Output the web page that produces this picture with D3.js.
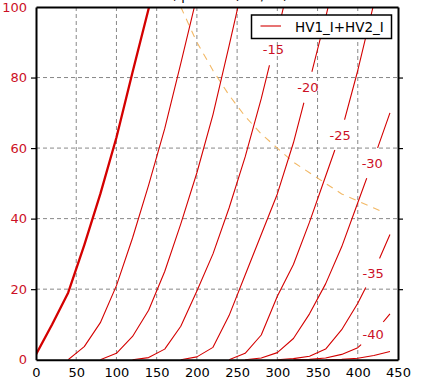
<!DOCTYPE html>
<html>
<head>
<script src="https://cdn.jsdelivr.net/npm/d3@7"></script>
<style>
  body { margin: 0; background: #fff; }
  svg { display: block; font-family: "DejaVu Sans", sans-serif; }
</style>
</head>
<body>
<script>
// plate voltage (V) / plate current (mA), one list per grid voltage
var vg0   = [[0,1.5],[20,10],[40,19],[60,32.5],[80,47],[100,63],[120,81.5],[140,99.5],[160,118]];
var vg5   = [[40,0],[60,3.7],[80,10.5],[100,21],[120,34.5],[140,49.5],[160,65.5],[180,84],[200,103]];
var vg10  = [[80,0],[100,1.8],[120,6.6],[140,14],[160,25],[180,38.5],[200,53],[220,69.5],[240,89],[260,109]];
var vg15  = [[120,0],[140,0.6],[160,3],[180,9.5],[200,19.5],[220,30],[240,43],[260,57.5],[280,74],[300,92.5],[320,112]];
var vg20  = [[180,0],[200,0.8],[220,3.5],[240,12.5],[260,24],[280,35.5],[300,47],[320,61.5],[340,79],[360,97],[380,116]];
var vg25  = [[240,0],[260,1.8],[280,7],[300,18],[320,27],[340,39],[360,52],[380,65],[400,82],[420,101],[440,120]];
var vg30  = [[260,0],[280,0.5],[300,2],[320,6],[340,13],[360,21.5],[380,32],[400,44.5],[420,57],[440,70]];
var vg35  = [[300,0],[320,0.3],[340,1],[360,3],[380,8.5],[400,16],[420,25],[440,35.5]];
var vg40  = [[320,0],[340,0.1],[360,0.5],[380,1.5],[400,3.4],[420,7.5],[440,13]];
var vg45  = [[360,0],[380,0.1],[400,0.4],[420,1.2],[440,2.3]];
var curves = [vg0, vg5, vg10, vg15, vg20, vg25, vg30, vg35, vg40, vg45];
var gridVolts = [0, -5, -10, -15, -20, -25, -30, -35, -40, -45];

// max dissipation line (dashed)
var pmax = [[180,100],[200,90],[220,82],[240,75],[260,69],[280,64],[300,60],[320,56],[340,53],[360,50],[380,47],[400,45],[420,43],[430,42]];

// labels: which grid voltage, and at what plate voltage it sits on the curve
var labelGrid  = [-15, -20, -25, -30, -35, -40];
var labelVolts = [295, 338, 378, 418, 419, 419];

var xTicks = [0, 50, 100, 150, 200, 250, 300, 350, 400, 450];
var yTicks = [0, 20, 40, 60, 80, 100];
var legendText = "HV1_I+HV2_I";
var titleText = "HV1, plate Ia (mA/Ua)";

var W = 425, H = 384;
var pl = 36, pr = 398, pt = 7, pb = 359.7;
var red = "#d40000", labelRed = "#cc1026";

var svg = d3.select("body").append("svg")
    .attr("width", W)
    .attr("height", H);

var x = d3.scaleLinear().domain([0, 450]).range([pl, pr]);
var y = d3.scaleLinear().domain([0, 100]).range([pb, pt]);

svg.append("text")
    .attr("x", (pl + pr) / 2)
    .attr("y", 0)
    .attr("text-anchor", "middle")
    .attr("font-size", 13)
    .text(titleText);

var defs = svg.append("defs");
defs.append("clipPath").attr("id", "plot")
  .append("rect")
    .attr("x", pl).attr("y", pt)
    .attr("width", pr - pl).attr("height", pb - pt);

// grid
svg.append("g").selectAll("line")
    .data(xTicks.slice(1, -1))
    .enter().append("line")
    .attr("x1", function(d) { return x(d); })
    .attr("x2", function(d) { return x(d); })
    .attr("y1", pt).attr("y2", pb)
    .attr("stroke", "#888").attr("stroke-width", 1)
    .attr("stroke-dasharray", "4,3");
svg.append("g").selectAll("line")
    .data(yTicks.slice(1, -1))
    .enter().append("line")
    .attr("y1", function(d) { return y(d); })
    .attr("y2", function(d) { return y(d); })
    .attr("x1", pl).attr("x2", pr)
    .attr("stroke", "#888").attr("stroke-width", 1)
    .attr("stroke-dasharray", "4,3");

// label positions on their curves
var labels = labelGrid.map(function(g, i) {
    var c = curves[gridVolts.indexOf(g)];
    var f = d3.scaleLinear()
        .domain(c.map(function(p) { return p[0]; }))
        .range(c.map(function(p) { return p[1]; }));
    var v = labelVolts[i];
    return { text: String(g), px: x(v), py: y(f(v)) };
});

// mask cuts the curves where the labels sit
var mask = defs.append("mask").attr("id", "gaps")
    .attr("maskUnits", "userSpaceOnUse")
    .attr("x", 0).attr("y", 0).attr("width", W).attr("height", H);
mask.append("rect").attr("x", 0).attr("y", 0)
    .attr("width", W).attr("height", H).attr("fill", "#fff");
mask.selectAll("circle").data(labels).enter().append("circle")
    .attr("cx", function(d) { return d.px; })
    .attr("cy", function(d) { return d.py; })
    .attr("r", 16)
    .attr("fill", "#000");

var line = d3.line()
    .x(function(d) { return x(d[0]); })
    .y(function(d) { return y(d[1]); });

var plot = svg.append("g").attr("clip-path", "url(#plot)");

plot.append("path")
    .attr("d", line(pmax))
    .attr("fill", "none")
    .attr("stroke", "#f2b865")
    .attr("stroke-width", 1.1)
    .attr("stroke-dasharray", "7,6");

plot.append("g").attr("mask", "url(#gaps)")
  .selectAll("path")
    .data(curves)
    .enter().append("path")
    .attr("d", function(d) { return line(d); })
    .attr("fill", "none")
    .attr("stroke", red)
    .attr("stroke-width", function(d, i) { return i == 0 ? 2.3 : 1.1; })
    .attr("stroke-linejoin", "round");

svg.append("g").selectAll("text")
    .data(labels)
    .enter().append("text")
    .attr("x", function(d) { return d.px; })
    .attr("y", function(d) { return d.py; })
    .attr("dy", "0.35em")
    .attr("text-anchor", "middle")
    .attr("font-size", 13)
    .attr("fill", labelRed)
    .text(function(d) { return d.text; });

// axes
var ax = svg.append("g")
    .attr("transform", "translate(0," + pb + ")")
    .call(d3.axisBottom(x).tickValues(xTicks).tickSize(0).tickPadding(8));
var ay = svg.append("g")
    .attr("transform", "translate(" + pl + ",0)")
    .call(d3.axisLeft(y).tickValues(yTicks).tickSizeInner(5).tickSizeOuter(0).tickPadding(4));
var ar = svg.append("g")
    .attr("transform", "translate(" + pr + ",0)")
    .call(d3.axisRight(y).tickValues(yTicks).tickSizeInner(5).tickSizeOuter(0).tickFormat(""));
var at = svg.append("g")
    .attr("transform", "translate(0," + pt + ")")
    .call(d3.axisTop(x).tickValues([]).tickSizeOuter(0));

[ax, ay, ar, at].forEach(function(a) {
    a.select(".domain").attr("stroke", "#000").attr("stroke-width", 2);
    a.selectAll(".tick line").attr("stroke", "#000").attr("stroke-width", 1.2);
    a.selectAll("text").attr("font-size", 13).attr("font-family", "DejaVu Sans");
});
ax.selectAll(".tick text").attr("fill", "#000");
ay.selectAll(".tick text").attr("fill", labelRed);
ay.selectAll(".tick").filter(function(d) { return d == 0 || d == 100; }).select("line").remove();
ar.selectAll(".tick").filter(function(d) { return d == 0 || d == 100; }).select("line").remove();

// legend
var lg = svg.append("g");
lg.append("rect")
    .attr("x", 251.5).attr("y", 15)
    .attr("width", 140).attr("height", 23.5)
    .attr("fill", "#fff").attr("stroke", "#000").attr("stroke-width", 1.5);
lg.append("line")
    .attr("x1", 260.5).attr("x2", 281).attr("y1", 26).attr("y2", 26)
    .attr("stroke", red).attr("stroke-width", 1.1);
lg.append("text")
    .attr("x", 295).attr("y", 31.5)
    .attr("font-size", 13.5)
    .text(legendText);
</script>
</body>
</html>
